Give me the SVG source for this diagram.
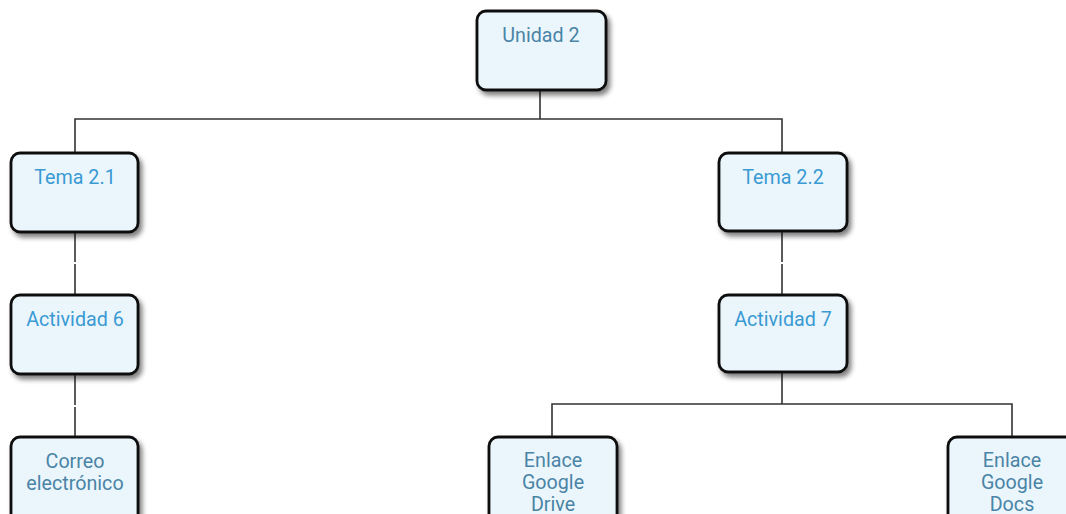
<svg xmlns="http://www.w3.org/2000/svg" width="1066" height="514" viewBox="0 0 1066 514">
<defs>
<filter id="sh" x="-20%" y="-20%" width="150%" height="150%">
<feGaussianBlur in="SourceAlpha" stdDeviation="2.5"/>
<feOffset dx="3" dy="4" result="b"/>
<feComponentTransfer><feFuncA type="linear" slope="0.5"/></feComponentTransfer>
<feMerge><feMergeNode/><feMergeNode in="SourceGraphic"/></feMerge>
</filter>
<style>
.box{fill:#eaf6fc;stroke:#111;stroke-width:2.8;filter:url(#sh)}
.t{font-family:Roboto,"Liberation Sans",sans-serif;font-size:19.7px;text-anchor:middle}
.b{fill:#3a9ad3}
.g{fill:#4a84a6}
.c{fill:none;stroke:#333;stroke-width:1.6}
</style>
</defs>
<rect width="1066" height="514" fill="#fff"/>
<g id="connectors">
<path class="c" d="M540 90V119M75 153V119H782V153"/>
<path class="c" d="M75 232V262M75 264V295"/>
<path class="c" d="M782 231V262M782 264V295"/>
<path class="c" d="M75 374V405M75 407V437"/>
<path class="c" d="M782 372V404M552 437V404H1012V437"/>
</g>
<g id="unidad2"><rect class="box" x="477" y="11" width="129" height="79" rx="9"/><text class="t g" x="541" y="42">Unidad 2</text></g>
<g id="tema21"><rect class="box" x="11" y="153" width="127" height="79" rx="9"/><text class="t b" x="75" y="184">Tema 2.1</text></g>
<g id="tema22"><rect class="box" x="719" y="153" width="128" height="78" rx="9"/><text class="t b" x="783" y="184">Tema 2.2</text></g>
<g id="actividad6"><rect class="box" x="11" y="295" width="127" height="79" rx="9"/><text class="t b" x="75" y="326">Actividad 6</text></g>
<g id="actividad7"><rect class="box" x="719" y="295" width="128" height="77" rx="9"/><text class="t b" x="783" y="326">Actividad 7</text></g>
<g id="correo"><rect class="box" x="11" y="437" width="127" height="90" rx="9"/><text class="t g" x="75" y="468">Correo</text><text class="t g" x="75" y="490">electrónico</text></g>
<g id="drive"><rect class="box" x="489" y="437" width="128" height="90" rx="9"/><text class="t g" x="553" y="467">Enlace</text><text class="t g" x="553" y="489">Google</text><text class="t g" x="553" y="511">Drive</text></g>
<g id="docs"><rect class="box" x="948" y="437" width="128" height="90" rx="9"/><text class="t g" x="1012" y="467">Enlace</text><text class="t g" x="1012" y="489">Google</text><text class="t g" x="1012" y="511">Docs</text></g>
</svg>
